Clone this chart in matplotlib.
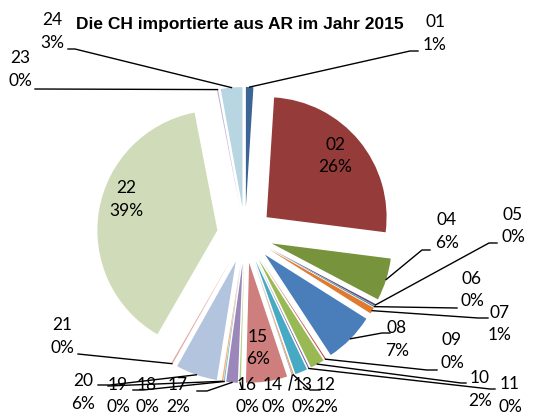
import numpy as np
import matplotlib.pyplot as plt

W, H = 535, 416

codes = ['01', '02', '04', '05', '06', '07', '08', '09', '10', '11', '12', '13',
         '14', '15', '16', '17', '18', '19', '20', '21', '22', '23', '24']
shares = [1.0, 26.0, 5.7, 0.25, 0.15, 0.85, 6.8, 0.15, 1.9, 0.15, 1.65, 0.15,
          0.1, 5.55, 0.2, 1.55, 0.15, 0.2, 5.6, 0.2, 38.6, 0.15, 2.9]
colors = ['#3C6494', '#953B39', '#77933C', '#604A7B', '#31859C', '#E07A2E',
          '#4A7EBB', '#BE4B48', '#98B954', '#7D60A0', '#46AAC5', '#F69240',
          '#7BA0CD', '#CE7E7C', '#B4CC82', '#9B87B9', '#78C1D4', '#F9B074',
          '#B3C4DF', '#E0A8A6', '#D0DCB9', '#C0B2D1', '#B7D6E1']

# label centres in pixels (y from top)
label_pos = [(435, 33.5), (335, 156), (447, 231.5), (513, 226), (472, 290),
             (500, 324), (397, 339.5), (452, 351.5), (480, 389.5), (510, 395.5),
             (326, 396), (303, 396), (273, 396), (258, 348), (247, 396),
             (178, 396), (147, 396), (118, 396), (83, 392.5), (62, 336.5),
             (126, 199.5), (20, 69.5), (52, 31.5)]
# where the leader line meets the label (None = label sits on the slice)
leader_end = [(418, 51), None, (430, 250), (497, 243), (457, 308),
              (488, 318), (390, 333), (437, 370), (466, 383), (495, 389),
              None, (320, 390), (289, 390), None, (242, 389),
              (197, 391), (133, 390), (108, 386), (98, 385), (78, 354),
              None, (35, 89), (68, 49)]
knee_len = [8, 0, 8, 8, 0, 10, 8, 10, 5, 5,
            0, 10, 0, 0, 0, 10, 10, 0, 12, 0,
            0, 0, 7]

fig = plt.figure(figsize=(W / 100, H / 100), dpi=100)
ax = fig.add_axes([0, 0, 1, 1])

wedges, _ = ax.pie(shares, colors=colors, startangle=90, counterclock=False,
                   center=(245, H - 235), radius=120, explode=[28] * len(shares),
                   wedgeprops=dict(linewidth=0))
ax.set_xlim(0, W)
ax.set_ylim(0, H)
ax.axis('off')

total = sum(shares)
for w, code, v, pos, end, kl in zip(wedges, codes, shares, label_pos, leader_end, knee_len):
    pct = v / total * 100
    ax.text(pos[0], H - pos[1], f'{code}\n{pct:.0f}%', ha='center', va='center',
            fontsize=12.5, family=['Lato', 'DejaVu Sans'], linespacing=1.5)
    if end is None:
        continue
    mid = np.deg2rad((w.theta1 + w.theta2) / 2)
    cx, cy = w.center
    a = (cx + w.r * np.cos(mid), cy + w.r * np.sin(mid))
    e = (end[0], H - end[1])
    k = (e[0] + np.sign(a[0] - e[0]) * kl, e[1])
    ax.plot([a[0], k[0], e[0]], [a[1], k[1], e[1]], color='black', lw=1)

ax.text(240, H - 25, 'Die CH importierte aus AR im Jahr 2015', ha='center', va='center',
        fontsize=12.5, fontweight='bold', family='Liberation Sans')

fig.savefig('out.png', dpi=100)
